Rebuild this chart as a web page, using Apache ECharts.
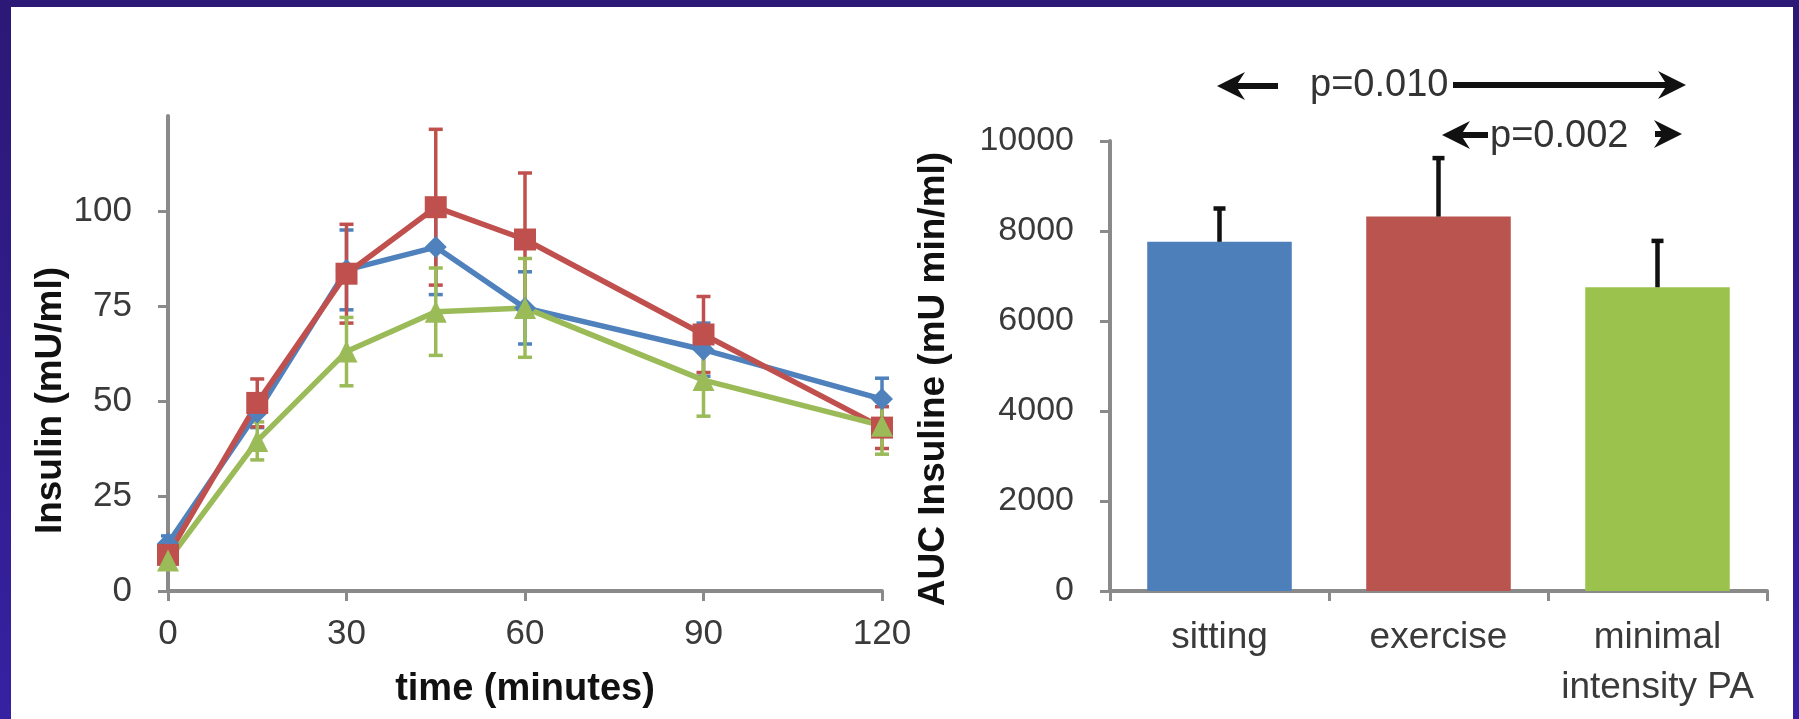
<!DOCTYPE html>
<html>
<head>
<meta charset="utf-8">
<script src="https://cdn.jsdelivr.net/npm/echarts@6/dist/echarts.min.js"></script>
<style>
  html, body { margin: 0; padding: 0; width: 1799px; height: 719px; overflow: hidden;
    background: linear-gradient(180deg, #2c1876 0%, #3621a2 100%); }
  #sheet { position: absolute; left: 11px; top: 7px; right: 6px; bottom: 0; background: #ffffff; }
  #chart { position: absolute; left: 0; top: 0; width: 1799px; height: 719px; }
</style>
</head>
<body>
<div id="sheet"></div>
<div id="chart"></div>
<script>
// Insulin time course (mean ± SEM), minutes after start
const timePoints = [0, 15, 30, 45, 60, 90, 120];
const timeTicks = [0, 30, 60, 90, 120];
const insulinTicks = [0, 25, 50, 75, 100];

const sittingMean  = [12.5, 47, 84.5, 90.5, 74.5, 63.5, 50.5];
const sittingSem   = [2, 4, 10.5, 12.5, 9.5, 7, 5.5];
const exerciseMean = [9.5, 49.5, 83.5, 101, 92.5, 67.5, 43];
const exerciseSem  = [2.5, 6.3, 13, 20.5, 17.5, 10, 5.5];
const minimalMean  = [8, 39.5, 63, 73.5, 74.5, 55.5, 43.5];
const minimalSem   = [2, 5, 9, 11.5, 13, 9.5, 7.5];

// Area under the insulin curve per condition
const groups = ['sitting', 'exercise', 'minimal\nintensity PA'];
const aucMean = [7760, 8320, 6750];
const aucSem = [740, 1300, 1030];
const aucTicks = [0, 2000, 4000, 6000, 8000, 10000];

const BLUE = '#4F81BD', RED = '#C0504D', GREEN = '#9BBB59';
const barColors = ['#4d7fba', '#b9544f', '#9cc24e'];
const FONT = '"Liberation Sans", Arial, Helvetica, sans-serif';
const AXIS_GREY = '#8a8a8a';
const LABEL_GREY = '#3a3a3a';

const chart = echarts.init(document.getElementById('chart'), null, { renderer: 'canvas' });

function pairs(xs, ys) { return xs.map((x, i) => [x, ys[i]]); }

// vertical error bar with caps, in data space
function errorBars(xAxisIndex, yAxisIndex, xs, means, sems, color, width, capHalf, upOnly, z) {
  return {
    type: 'custom',
    xAxisIndex, yAxisIndex, z, silent: true, clip: false,
    data: xs.map((x, i) => [x, upOnly ? means[i] : means[i] - sems[i], means[i] + sems[i]]),
    encode: { x: 0, y: [1, 2] },
    renderItem(params, api) {
      const lo = api.coord([api.value(0), api.value(1)]);
      const hi = api.coord([api.value(0), api.value(2)]);
      const st = { stroke: color, lineWidth: width };
      const kids = [
        { type: 'line', shape: { x1: lo[0], y1: lo[1], x2: hi[0], y2: hi[1] }, style: st },
        { type: 'line', shape: { x1: hi[0] - capHalf, y1: hi[1], x2: hi[0] + capHalf, y2: hi[1] }, style: st }
      ];
      if (!upOnly) kids.push({ type: 'line', shape: { x1: lo[0] - capHalf, y1: lo[1], x2: lo[0] + capHalf, y2: lo[1] }, style: st });
      return { type: 'group', children: kids };
    }
  };
}

function lineSeries(name, means, color, symbol, size) {
  return {
    name, type: 'line', xAxisIndex: 0, yAxisIndex: 0, z: 3,
    data: pairs(timePoints, means),
    symbol, symbolSize: size, showSymbol: true,
    lineStyle: { color, width: 5.5 },
    itemStyle: { color, borderWidth: 0 },
    emphasis: { disabled: true }
  };
}

function axisLine() { return { show: true, lineStyle: { color: AXIS_GREY, width: 4 } }; }
function axisTick(extra) { return Object.assign({ show: true, inside: false, length: 10, lineStyle: { color: AXIS_GREY, width: 3 } }, extra || {}); }

// arrow head polygon, dir = -1 points left, +1 points right
function head(tipX, y, dir) {
  return {
    type: 'polygon',
    shape: { points: [[tipX, y], [tipX - dir * 28, y - 14], [tipX - dir * 19, y], [tipX - dir * 28, y + 14]] },
    style: { fill: '#111' }
  };
}
function shaft(x1, x2, y) {
  return { type: 'line', shape: { x1, y1: y, x2, y2: y }, style: { stroke: '#111', lineWidth: 6 } };
}

const option = {
  animation: false,
  backgroundColor: 'transparent',
  textStyle: { fontFamily: FONT },
  grid: [
    { left: 168, top: 116, width: 714, height: 475 },
    { left: 1110, top: 141, width: 657, height: 450 }
  ],
  xAxis: [
    {
      gridIndex: 0, type: 'value', min: 0, max: 120, interval: 30,
      axisLine: axisLine(), axisTick: axisTick(), splitLine: { show: false },
      axisLabel: { fontSize: 35, color: LABEL_GREY, margin: 26, fontFamily: FONT },
      name: 'time (minutes)', nameLocation: 'middle', nameGap: 80,
      nameTextStyle: { fontSize: 38, fontWeight: 'bold', color: '#111', fontFamily: FONT }
    },
    {
      gridIndex: 1, type: 'category', data: groups,
      axisLine: axisLine(), axisTick: axisTick({ alignWithLabel: false }), splitLine: { show: false },
      axisLabel: { fontSize: 37, color: LABEL_GREY, margin: 22, lineHeight: 50, fontFamily: FONT, interval: 0 }
    }
  ],
  yAxis: [
    {
      gridIndex: 0, type: 'value', min: 0, max: 125, interval: 25,
      axisLine: axisLine(), axisTick: axisTick({ customValues: insulinTicks }), splitLine: { show: false },
      axisLabel: { fontSize: 35, color: LABEL_GREY, margin: 36, fontFamily: FONT, customValues: insulinTicks },
      name: 'Insulin (mU/ml)', nameLocation: 'middle', nameGap: 94,
      nameTextStyle: { fontSize: 37, fontWeight: 'bold', color: '#111', fontFamily: FONT, padding: [0, 94, 0, 0] }
    },
    {
      gridIndex: 1, type: 'value', min: 0, max: 10000, interval: 2000,
      axisLine: axisLine(), axisTick: axisTick(), splitLine: { show: false },
      axisLabel: { fontSize: 34, color: LABEL_GREY, margin: 36, fontFamily: FONT, formatter: v => String(v) },
      name: 'AUC Insuline (mU min/ml)', nameLocation: 'middle', nameGap: 158,
      nameTextStyle: { fontSize: 37, fontWeight: 'bold', color: '#111', fontFamily: FONT, padding: [0, 26, 0, 0] }
    }
  ],
  series: [
    errorBars(0, 0, timePoints, sittingMean, sittingSem, BLUE, 3.5, 7, false, 2),
    errorBars(0, 0, timePoints, exerciseMean, exerciseSem, RED, 3.5, 7, false, 2),
    errorBars(0, 0, timePoints, minimalMean, minimalSem, GREEN, 3.5, 7, false, 2),
    lineSeries('sitting', sittingMean, BLUE, 'diamond', 22),
    lineSeries('exercise', exerciseMean, RED, 'rect', 22),
    lineSeries('minimal intensity PA', minimalMean, GREEN, 'triangle', 22),
    {
      name: 'AUC', type: 'bar', xAxisIndex: 1, yAxisIndex: 1, z: 2,
      barWidth: '66%',
      data: aucMean.map((v, i) => ({ value: v, itemStyle: { color: barColors[i] } })),
      emphasis: { disabled: true }
    },
    errorBars(1, 1, groups, aucMean, aucSem, '#111', 4.5, 6, true, 3)
  ],
  graphic: [
    head(1217, 86, -1), shaft(1232, 1278, 86),
    { type: 'text', x: 1310, y: 86, style: { text: 'p=0.010', fontSize: 38, fill: '#333', fontFamily: FONT, verticalAlign: 'middle' } },
    shaft(1453, 1670, 85), head(1686, 85, 1),
    head(1442, 135, -1), shaft(1456, 1488, 135),
    { type: 'text', x: 1490, y: 137, style: { text: 'p=0.002', fontSize: 38, fill: '#333', fontFamily: FONT, verticalAlign: 'middle' } },
    shaft(1655, 1670, 134), head(1682, 134, 1)
  ]
};

chart.setOption(option);
</script>
</body>
</html>
